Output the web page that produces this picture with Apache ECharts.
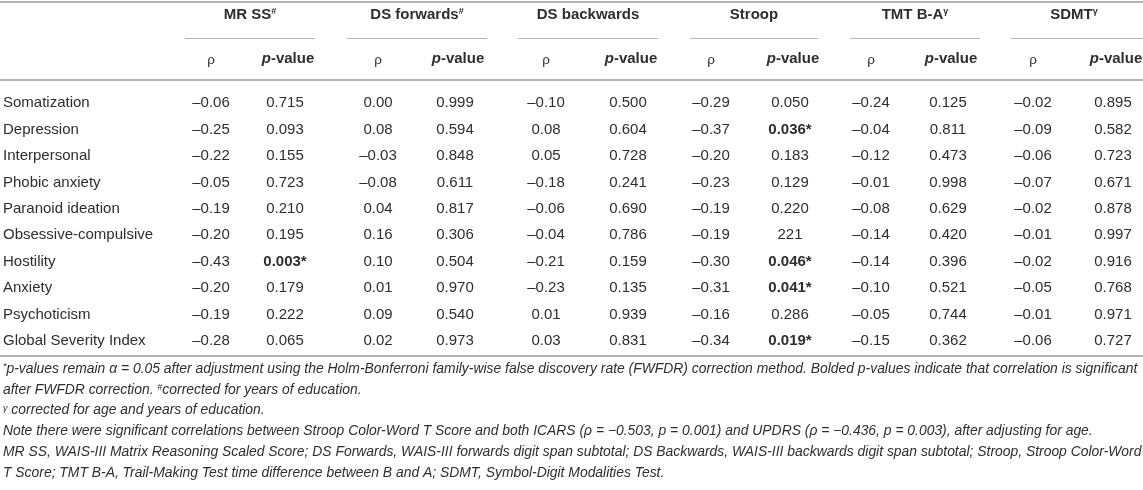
<html>
<head>
    <meta charset="UTF-8">
    <title>Correlations table</title>
    <style>
        body { margin: 0; background: #fff; }
    </style>
    <script src="https://cdn.jsdelivr.net/npm/echarts@6/dist/echarts.min.js"></script>
</head>
<body>
<div id="main" style="width: 1143px;height:490px;"></div>
<script>
    // row labels (symptom dimensions)
    var rows = ['Somatization', 'Depression', 'Interpersonal', 'Phobic anxiety', 'Paranoid ideation',
        'Obsessive-compulsive', 'Hostility', 'Anxiety', 'Psychoticism', 'Global Severity Index'];

    // column groups, sup = superscript mark
    var groups = ['MR SS', 'DS forwards', 'DS backwards', 'Stroop', 'TMT B-A', 'SDMT'];
    var groupSup = ['#', '#', '', '', 'γ', 'γ'];

    // rho per test
    var mrRho = [-0.06, -0.25, -0.22, -0.05, -0.19, -0.20, -0.43, -0.20, -0.19, -0.28];
    var dsfRho = [0.00, 0.08, -0.03, -0.08, 0.04, 0.16, 0.10, 0.01, 0.09, 0.02];
    var dsbRho = [-0.10, 0.08, 0.05, -0.18, -0.06, -0.04, -0.21, -0.23, 0.01, 0.03];
    var stroopRho = [-0.29, -0.37, -0.20, -0.23, -0.19, -0.19, -0.30, -0.31, -0.16, -0.34];
    var tmtRho = [-0.24, -0.04, -0.12, -0.01, -0.08, -0.14, -0.14, -0.10, -0.05, -0.15];
    var sdmtRho = [-0.02, -0.09, -0.06, -0.07, -0.02, -0.01, -0.02, -0.05, -0.01, -0.06];

    // p-values as printed ('*' = significant after FWFDR, shown bold)
    var mrP = ['0.715', '0.093', '0.155', '0.723', '0.210', '0.195', '0.003*', '0.179', '0.222', '0.065'];
    var dsfP = ['0.999', '0.594', '0.848', '0.611', '0.817', '0.306', '0.504', '0.970', '0.540', '0.973'];
    var dsbP = ['0.500', '0.604', '0.728', '0.241', '0.690', '0.786', '0.159', '0.135', '0.939', '0.831'];
    var stroopP = ['0.050', '0.036*', '0.183', '0.129', '0.220', '221', '0.046*', '0.041*', '0.286', '0.019*'];
    var tmtP = ['0.125', '0.811', '0.473', '0.998', '0.629', '0.420', '0.396', '0.521', '0.744', '0.362'];
    var sdmtP = ['0.895', '0.582', '0.723', '0.671', '0.878', '0.997', '0.916', '0.768', '0.971', '0.727'];

    var footnotes = [
        '{sup|*}{i|p-values remain α = 0.05 after adjustment using the Holm-Bonferroni family-wise false discovery rate (FWFDR) correction method. Bolded p-values indicate that correlation is significant}',
        '{i|after FWFDR correction. }{sup|#}{i|corrected for years of education.}',
        '{sup|γ}{i| corrected for age and years of education.}',
        '{i|Note there were significant correlations between Stroop Color-Word T Score and both ICARS (ρ = −0.503, p = 0.001) and UPDRS (ρ = −0.436, p = 0.003), after adjusting for age.}',
        '{i|MR SS, WAIS-III Matrix Reasoning Scaled Score; DS Forwards, WAIS-III forwards digit span subtotal; DS Backwards, WAIS-III backwards digit span subtotal; Stroop, Stroop Color-Word}',
        '{i|T Score; TMT B-A, Trail-Making Test time difference between B and A; SDMT, Symbol-Digit Modalities Test.}'
    ];

    var rhoCols = [mrRho, dsfRho, dsbRho, stroopRho, tmtRho, sdmtRho];
    var pCols = [mrP, dsfP, dsbP, stroopP, tmtP, sdmtP];

    // layout (pixels)
    var FONT = '"Liberation Sans", Arial, Helvetica, sans-serif';
    var TXT = '#2e2e2e';
    var RULE = '#b4b4b4';
    var rhoX = [211, 378, 546, 711, 871, 1033];
    var pX = [285, 455, 628, 790, 948, 1113];
    var lineL = [185, 347, 518, 690, 850, 1011];
    var lineR = [315, 487, 658, 818, 980, 1143];

    function fmtRho(v) {
        return v.toFixed(2).replace('-', '–');
    }

    // cells: [x, rowIndex] + text info
    var cells = [];
    rows.forEach(function (name, r) {
        for (var g = 0; g < groups.length; g++) {
            cells.push({value: [rhoX[g], r], text: fmtRho(rhoCols[g][r]), bold: false});
            var p = pCols[g][r];
            cells.push({value: [pX[g], r], text: p, bold: p.indexOf('*') >= 0});
        }
    });

    var graphics = [];
    // rules
    function rule(x1, x2, y, w) {
        graphics.push({type: 'line', shape: {x1: x1, y1: y, x2: x2, y2: y},
            style: {stroke: RULE, lineWidth: w}, silent: true});
    }
    rule(0, 1143, 2, 2);
    rule(0, 1143, 80, 2);
    rule(0, 1143, 356, 2);
    groups.forEach(function (g, i) {
        rule(lineL[i], lineR[i], 38.5, 1);
        graphics.push({type: 'text', x: (lineL[i] + lineR[i]) / 2 + (i === 5 ? -3 : 0), y: 15,
            style: {text: '{b|' + g + '}' + (groupSup[i] ? '{sup|' + groupSup[i] + '}' : ''),
                align: 'center', verticalAlign: 'middle',
                rich: {b: {fontFamily: FONT, fontSize: 15, fontWeight: 'bold', fill: TXT},
                    sup: {fontFamily: FONT, fontSize: 9, fontWeight: 'bold', fill: TXT, verticalAlign: 'top'}}}});
        graphics.push({type: 'text', x: rhoX[i], y: 60,
            style: {text: 'ρ', align: 'center', verticalAlign: 'middle',
                font: '13.5px ' + FONT, fill: TXT}});
        graphics.push({type: 'text', x: pX[i] + 3, y: 59,
            style: {text: '{pi|p}{b|-value}', align: 'center', verticalAlign: 'middle',
                rich: {pi: {fontFamily: FONT, fontSize: 15, fontWeight: 'bold', fontStyle: 'italic', fill: TXT},
                    b: {fontFamily: FONT, fontSize: 15, fontWeight: 'bold', fill: TXT}}}});
    });
    footnotes.forEach(function (t, k) {
        graphics.push({type: 'text', x: 3, y: 369 + k * 20.8,
            style: {text: t, align: 'left', verticalAlign: 'middle',
                rich: {i: {fontFamily: FONT, fontSize: 13.9, fontStyle: 'italic', fill: TXT},
                    sup: {fontFamily: FONT, fontSize: 9, fontStyle: 'italic', fill: TXT, verticalAlign: 'top'}}}});
    });

    var myChart = echarts.init(document.getElementById('main'));
    var option = {
        animation: false,
        grid: {left: 0, right: 0, top: 90, height: 264},
        xAxis: {type: 'value', min: 0, max: 1143, show: false},
        yAxis: {
            type: 'category', data: rows, inverse: true,
            axisLine: {show: false}, axisTick: {show: false}, splitLine: {show: false},
            axisLabel: {inside: true, margin: 3, color: TXT, fontSize: 15, fontFamily: FONT}
        },
        series: [{
            type: 'custom',
            data: cells,
            encode: {x: 0, y: 1},
            renderItem: function (params, api) {
                var c = cells[params.dataIndex];
                var pt = api.coord([api.value(0), api.value(1)]);
                return {
                    type: 'text', x: pt[0], y: pt[1],
                    style: {text: c.text, align: 'center', verticalAlign: 'middle',
                        font: (c.bold ? 'bold ' : '') + '15px ' + FONT, fill: TXT}
                };
            }
        }],
        graphic: graphics
    };
    myChart.setOption(option);
</script>
</body>
</html>
